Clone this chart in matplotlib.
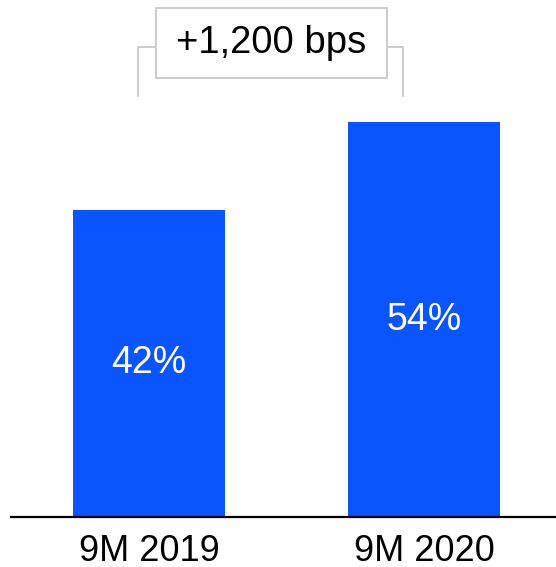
import matplotlib.pyplot as plt
from matplotlib.patches import Rectangle

plt.rcParams['font.family'] = ['Liberation Sans', 'DejaVu Sans']

# 数据
periods = ['9M 2019', '9M 2020']
shares = [42, 54]
change_label = '+1,200 bps'

bar_color = '#0A55FF'
gray = '#c8c8c8'

fig = plt.figure(figsize=(5.56, 5.67), dpi=100)
ax = fig.add_axes([11 / 556, 50 / 567, 545 / 556, 517 / 567])

x = list(range(len(periods)))
ax.bar(x, shares, width=0.553, color=bar_color)

# 柱内标签
for xi, v in zip(x, shares):
    ax.text(xi, v / 2, f'{v}%', ha='center', va='center', color='white', fontsize=27)

ax.set_xlim(-0.502, 1.48)
ax.set_ylim(0, 70.7)

# 括号和变化框
y_low, y_mid = 57.6, 64.3
ax.plot([-0.04, -0.04, 0.0255], [y_low, y_mid, y_mid], color=gray, lw=1.3, clip_on=False)
ax.plot([0.865, 0.924, 0.924], [y_mid, y_mid, y_low], color=gray, lw=1.3, clip_on=False)
ax.add_patch(Rectangle((0.0255, 60.1), 0.865 - 0.0255, 69.6 - 60.1,
                       fill=False, edgecolor=gray, lw=1.3, clip_on=False))
ax.text(0.445, 64.85, change_label, ha='center', va='center', fontsize=27.5)

# 坐标轴
for s in ['top', 'right', 'left']:
    ax.spines[s].set_visible(False)
ax.spines['bottom'].set_linewidth(1.6)
ax.set_yticks([])
ax.set_xticks(x)
ax.set_xticklabels(periods, fontsize=26)
ax.tick_params(axis='x', length=0, pad=12)

fig.savefig('out.png', dpi=100)
